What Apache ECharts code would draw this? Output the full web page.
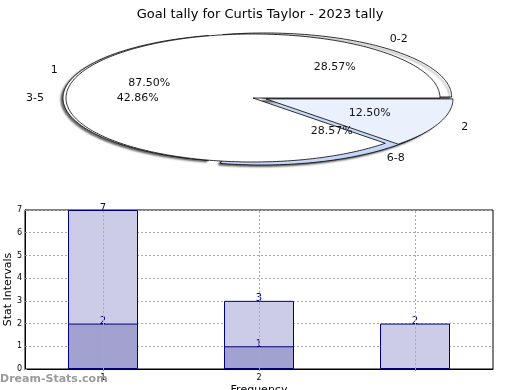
<!DOCTYPE html>
<html><head><meta charset="utf-8">
<script src="https://cdn.jsdelivr.net/npm/echarts@6/dist/echarts.min.js"></script>
<style>html,body{margin:0;padding:0;background:#fff}#c{width:520px;height:390px}</style>
</head><body><div id="c"></div>
<script>
// ---- data ----
const titleText = 'Goal tally for Curtis Taylor - 2023 tally';
const pieACats = ['1', '2'];
const pieAVals = [7, 1];
const pieBCats = ['0-2', '3-5', '6-8'];
const pieBVals = [2, 3, 2];
const barCats = ['1', '2', ''];
const barTotal = [7, 3, 2];
const barLower = [2, 1, null];

// ---- layout / style ----
const CX = 253, CY = 98, RX = 187, RY = 64;
const pieAColors = ['#ffffff', '#eaf1fd'];
const pieBColors = ['#ffffff', '#ffffff', '#c6d7f7'];
const pieAExplode = [0, 0.075];
const pieBExplode = [0.1, 0.016, 0.075];
const pieBDy = [0.2, 0.5, 0.8];
const pieADy = [0.5, 0.5];
const FONT = 'DejaVu Sans';

function buildSlices(cats, vals, colors, explode, dyk, pie) {
  const total = vals.reduce((a, b) => a + b, 0);
  let cum = 0;
  return vals.map((v, i) => {
    const a0 = 2 * Math.PI * cum / total;
    const a1 = 2 * Math.PI * (cum + v) / total;
    cum += v;
    const mid = (a0 + a1) / 2;
    const e = explode[i];
    return {
      pie, name: cats[i], pct: (100 * v / total).toFixed(2) + '%',
      a0, a1, mid, color: colors[i],
      ox: e * RX * Math.cos(mid), oy: -e * RY * Math.sin(mid) * dyk[i]
    };
  });
}
const slices = buildSlices(pieBCats, pieBVals, pieBColors, pieBExplode, pieBDy, 'B')
  .concat(buildSlices(pieACats, pieAVals, pieAColors, pieAExplode, pieADy, 'A'));

function slicePoints(s) {
  const pts = [[CX + s.ox, CY + s.oy]];
  const n = Math.max(4, Math.ceil((s.a1 - s.a0) / 0.02));
  for (let k = 0; k <= n; k++) {
    const t = s.a0 + (s.a1 - s.a0) * k / n;
    pts.push([CX + s.ox + RX * Math.cos(t), CY + s.oy - RY * Math.sin(t)]);
  }
  return pts;
}

const dotted = {color: '#aaa', type: [2, 2], width: 1};
const chart = echarts.init(document.getElementById('c'), null, {renderer: 'canvas'});
chart.setOption({
  animation: false,
  title: {text: titleText, left: 'center', top: 3,
    textStyle: {fontFamily: FONT, fontSize: 13, fontWeight: 'normal', color: '#000'}},
  graphic: [{type: 'text', left: 0, top: 374, z: 50,
    style: {text: 'Dream-Stats.com', font: 'bold 11px "DejaVu Sans"', fill: '#9a9a9a'}}],
  grid: {left: 25, right: 27, top: 210, bottom: 21, show: true, borderColor: '#000', borderWidth: 1,
    outerBoundsMode: 'none', containLabel: false},
  xAxis: {type: 'category', data: barCats,
    name: 'Frequency', nameLocation: 'middle', nameGap: 16, nameMoveOverlap: false,
    nameTextStyle: {fontFamily: FONT, fontSize: 11, color: '#000'},
    axisLine: {lineStyle: {color: '#000'}},
    axisTick: {show: true, alignWithLabel: true, length: 2, lineStyle: {color: '#888'}},
    axisLabel: {fontFamily: FONT, fontSize: 8, color: '#000', margin: 5},
    splitLine: {show: false}},
  yAxis: {type: 'value', min: 0, max: 7, interval: 1,
    name: 'Stat Intervals', nameLocation: 'middle', nameGap: 11, nameMoveOverlap: false,
    nameTextStyle: {fontFamily: FONT, fontSize: 11, color: '#000'},
    axisLine: {show: true, lineStyle: {color: '#000'}},
    axisTick: {show: true, length: 2, inside: true, lineStyle: {color: '#888'}},
    axisLabel: {fontFamily: FONT, fontSize: 8, color: '#000', margin: 3},
    splitLine: {show: true, lineStyle: dotted}},
  series: [
    {type: 'bar', data: barTotal, barWidth: 70, barGap: '-100%',
      itemStyle: {color: '#cccce6', borderColor: '#000080', borderWidth: 1},
      label: {show: true, position: 'top', distance: -3, color: '#000080',
        fontFamily: FONT, fontSize: 10},
      markLine: {silent: true, symbol: 'none', label: {show: false}, z: 3,
        lineStyle: dotted,
        data: barCats.map((c, i) => ({xAxis: i}))}},
    {type: 'bar', data: barLower, barWidth: 70, barGap: '-100%',
      itemStyle: {color: '#a2a2d0', borderColor: '#000080', borderWidth: 1},
      label: {show: true, position: 'top', distance: -3, color: '#000080',
        fontFamily: FONT, fontSize: 10}},
    {type: 'custom', coordinateSystem: 'none', z: 10,
      data: slices.map((s, i) => [i]),
      renderItem: function (params) {
        const s = slices[params.dataIndex];
        const shadow = s.pie === 'B';
        return {type: 'polygon', shape: {points: slicePoints(s)},
          style: {fill: s.color, stroke: '#000', lineWidth: 0.8,
            shadowColor: shadow ? 'rgba(0,0,0,0.6)' : 'rgba(0,0,0,0)',
            shadowBlur: shadow ? 2 : 0, shadowOffsetX: shadow ? -2 : 0, shadowOffsetY: shadow ? 1.5 : 0}};
      }},
    {type: 'custom', coordinateSystem: 'none', z: 20,
      data: slices.map((s, i) => [i]),
      renderItem: function (params) {
        const s = slices[params.dataIndex];
        const c = Math.cos(s.mid), sn = Math.sin(s.mid);
        return {type: 'group', children: [
          {type: 'text', style: {text: s.name, x: CX + s.ox + 1.15 * RX * c, y: CY + s.oy - 1.15 * RY * sn,
            align: 'center', verticalAlign: 'middle', font: '11px "DejaVu Sans"', fill: '#111'}},
          {type: 'text', style: {text: s.pct, x: CX + s.ox + 0.6 * RX * c, y: CY + s.oy - 0.6 * RY * sn,
            align: 'center', verticalAlign: 'middle', font: '11px "DejaVu Sans"', fill: '#111'}}
        ]};
      }}
  ]
});
</script></body></html>
